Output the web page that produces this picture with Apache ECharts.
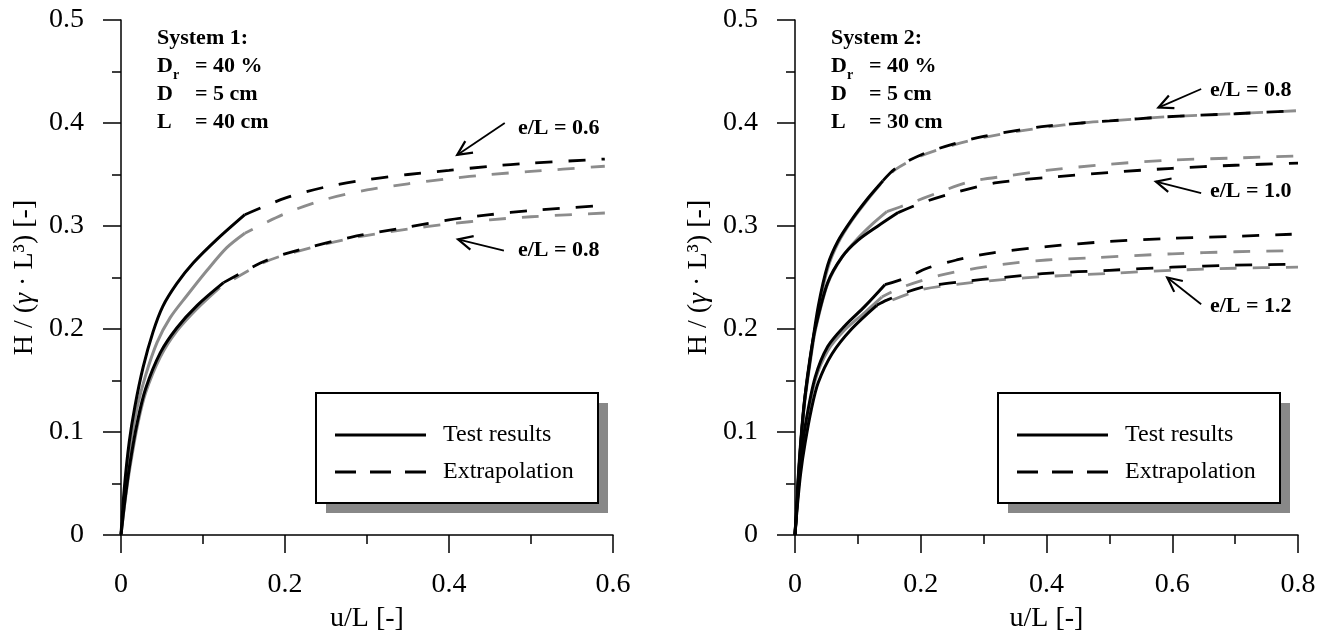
<!DOCTYPE html>
<html>
<head>
<meta charset="utf-8">
<script src="https://cdn.jsdelivr.net/npm/echarts@6/dist/echarts.min.js"></script>
<style>
  html, body { margin: 0; padding: 0; background: #fff; }
  #chart { width: 1330px; height: 639px; }
</style>
</head>
<body>
<div id="chart"></div>
<script>
// System 1 (left), e/L = 0.6 and 0.8 : [u/L, H/(gamma L^3)]
var s1_06_test = [[0, 0], [0.004, 0.045], [0.01, 0.09], [0.017, 0.125], [0.027, 0.163], [0.039, 0.197], [0.051, 0.222], [0.068, 0.244], [0.088, 0.264], [0.117, 0.287], [0.151, 0.311]];
var s1_06_ext = [[0.151, 0.311], [0.2, 0.327], [0.25, 0.338], [0.3, 0.345], [0.35, 0.350], [0.4, 0.354], [0.45, 0.358], [0.5, 0.361], [0.59, 0.365]];
var s1_06b_test = [[0, 0], [0.005, 0.045], [0.012, 0.09], [0.02, 0.125], [0.03, 0.155], [0.044, 0.187], [0.06, 0.211], [0.08, 0.232], [0.105, 0.257], [0.129, 0.279], [0.151, 0.293]];
var s1_06b_ext = [[0.151, 0.293], [0.2, 0.312], [0.25, 0.326], [0.3, 0.335], [0.35, 0.341], [0.4, 0.346], [0.45, 0.350], [0.5, 0.353], [0.59, 0.358]];
var s1_08_test = [[0, 0], [0.005, 0.035], [0.011, 0.07], [0.02, 0.11], [0.03, 0.142], [0.048, 0.177], [0.068, 0.201], [0.093, 0.223], [0.125, 0.245]];
var s1_08_ext = [[0.125, 0.245], [0.17, 0.264], [0.2, 0.273], [0.28, 0.289], [0.35, 0.299], [0.4, 0.306], [0.45, 0.311], [0.5, 0.315], [0.59, 0.320]];
var s1_08b_test = [[0, 0], [0.005, 0.033], [0.011, 0.066], [0.02, 0.106], [0.03, 0.138], [0.048, 0.173], [0.068, 0.198], [0.093, 0.22], [0.12, 0.24]];
var s1_08b_ext = [[0.12, 0.24], [0.17, 0.263], [0.2, 0.272], [0.28, 0.288], [0.35, 0.297], [0.4, 0.302], [0.45, 0.306], [0.5, 0.309], [0.6, 0.313]];

// System 2 (right), e/L = 0.8, 1.0 and 1.2
var s2_08_test = [[0, 0], [0.004, 0.045], [0.009, 0.09], [0.015, 0.13], [0.024, 0.17], [0.037, 0.222], [0.052, 0.262], [0.068, 0.285], [0.09, 0.306], [0.116, 0.327], [0.14, 0.344]];
var s2_08_ext = [[0.14, 0.344], [0.16, 0.356], [0.2, 0.369], [0.254, 0.38], [0.3, 0.387], [0.356, 0.393], [0.4, 0.397], [0.456, 0.400], [0.5, 0.402], [0.59, 0.406], [0.7, 0.409], [0.8, 0.412]];
var s2_08b_test = [[0, 0], [0.004, 0.043], [0.009, 0.087], [0.015, 0.127], [0.024, 0.167], [0.037, 0.218], [0.052, 0.259], [0.068, 0.283], [0.09, 0.305], [0.116, 0.326], [0.135, 0.34]];
var s2_08b_ext = [[0.135, 0.34], [0.16, 0.355], [0.2, 0.368], [0.254, 0.379], [0.3, 0.386], [0.356, 0.392], [0.4, 0.396], [0.456, 0.400], [0.5, 0.402], [0.59, 0.406], [0.7, 0.409], [0.8, 0.412]];
var s2_10_test = [[0, 0], [0.005, 0.05], [0.01, 0.095], [0.016, 0.135], [0.024, 0.172], [0.032, 0.2], [0.052, 0.245], [0.075, 0.27], [0.1, 0.286], [0.132, 0.3], [0.164, 0.313]];
var s2_10_ext = [[0.164, 0.313], [0.204, 0.323], [0.257, 0.333], [0.321, 0.342], [0.4, 0.347], [0.5, 0.352], [0.6, 0.356], [0.7, 0.359], [0.8, 0.361]];
var s2_10b_test = [[0, 0], [0.005, 0.05], [0.01, 0.094], [0.016, 0.133], [0.024, 0.17], [0.032, 0.198], [0.052, 0.244], [0.075, 0.27], [0.1, 0.288], [0.125, 0.303], [0.146, 0.314]];
var s2_10b_ext = [[0.146, 0.314], [0.183, 0.322], [0.226, 0.332], [0.278, 0.343], [0.342, 0.349], [0.4, 0.354], [0.5, 0.36], [0.6, 0.364], [0.7, 0.366], [0.8, 0.368]];
var s2_12_test = [[0, 0], [0.004, 0.035], [0.009, 0.07], [0.016, 0.105], [0.032, 0.153], [0.052, 0.183], [0.079, 0.203], [0.111, 0.222], [0.143, 0.243]];
var s2_12_ext = [[0.143, 0.243], [0.178, 0.25], [0.21, 0.259], [0.257, 0.267], [0.315, 0.274], [0.4, 0.28], [0.5, 0.285], [0.6, 0.288], [0.7, 0.29], [0.79, 0.292]];
var s2_12b_test = [[0, 0], [0.004, 0.034], [0.009, 0.068], [0.016, 0.1], [0.032, 0.15], [0.052, 0.179], [0.079, 0.199], [0.111, 0.216], [0.138, 0.231]];
var s2_12b_ext = [[0.138, 0.231], [0.172, 0.241], [0.23, 0.252], [0.289, 0.259], [0.347, 0.264], [0.4, 0.267], [0.467, 0.269], [0.6, 0.273], [0.7, 0.275], [0.8, 0.276]];
var s2_12c_test = [[0, 0], [0.004, 0.03], [0.009, 0.06], [0.016, 0.089], [0.026, 0.122], [0.037, 0.148], [0.059, 0.176], [0.09, 0.2], [0.13, 0.223]];
var s2_12c_ext = [[0.13, 0.223], [0.146, 0.228], [0.199, 0.24], [0.267, 0.246], [0.33, 0.25], [0.4, 0.254], [0.5, 0.257], [0.6, 0.26], [0.7, 0.262], [0.8, 0.263]];
var s2_12d_ext = [[0.13, 0.222], [0.2, 0.238], [0.267, 0.244], [0.33, 0.248], [0.4, 0.251], [0.5, 0.254], [0.6, 0.257], [0.7, 0.259], [0.8, 0.26]];

// annotation arrows: [tail, head] in data units, and their labels [text, x, y]
var arrows1 = [[[0.468, 0.400], [0.41, 0.369]], [[0.467, 0.276], [0.411, 0.287]]];
var labels1 = [['e/L = 0.6', 0.484, 0.395], ['e/L = 0.8', 0.484, 0.276]];
var arrows2 = [[[0.646, 0.433], [0.578, 0.415]], [[0.646, 0.332], [0.574, 0.343]], [[0.646, 0.224], [0.592, 0.25]]];
var labels2 = [['e/L = 0.8', 0.66, 0.432], ['e/L = 1.0', 0.66, 0.334], ['e/L = 1.2', 0.66, 0.222]];

var notes1 = [['D', '= 40 %'], ['D', '= 5 cm'], ['L', '= 40 cm']];
var notes2 = [['D', '= 40 %'], ['D', '= 5 cm'], ['L', '= 30 cm']];
var legendNames = ['Test results', 'Extrapolation'];

var FONT = "'Liberation Serif', 'Times New Roman', serif";
var BLACK = '#000';
var GRAY = '#8c8c8c';

var chart = echarts.init(document.getElementById('chart'));

function line(name, data, idx, color, dashed, offset) {
    return {
        name: name,
        type: 'line',
        xAxisIndex: idx,
        yAxisIndex: idx,
        data: data,
        showSymbol: false,
        symbol: 'none',
        smooth: 0.3,
        silent: true,
        itemStyle: { color: color },
        lineStyle: {
            color: color,
            width: dashed ? 2.8 : 3,
            type: dashed ? [17, 16] : 'solid',
            dashOffset: offset || 0
        }
    };
}

function xAxis(idx, max) {
    return {
        gridIndex: idx, type: 'value', min: 0, max: max, interval: 0.2,
        name: 'u/L [-]', nameLocation: 'middle', nameGap: 70,
        nameTextStyle: { fontFamily: FONT, fontSize: 28, color: BLACK },
        axisLine: { onZero: false, lineStyle: { color: BLACK, width: 1.5 } },
        axisTick: { length: 18, lineStyle: { color: BLACK, width: 1.5 } },
        minorTick: { show: true, splitNumber: 2, length: 9, lineStyle: { color: BLACK, width: 1.5 } },
        splitLine: { show: false },
        axisLabel: { margin: 36, fontFamily: FONT, fontSize: 28, color: BLACK }
    };
}

function yAxis(idx) {
    return {
        gridIndex: idx, type: 'value', min: 0, max: 0.5, interval: 0.1,
        name: 'H / ({i|γ} · L³) [-]', nameLocation: 'middle', nameGap: 82,
        nameTextStyle: {
            fontFamily: FONT, fontSize: 28, color: BLACK,
            rich: { i: { fontFamily: FONT, fontSize: 28, fontStyle: 'italic', color: BLACK } }
        },
        axisLine: { onZero: false, lineStyle: { color: BLACK, width: 1.5 } },
        axisTick: { length: 18, lineStyle: { color: BLACK, width: 1.5 } },
        minorTick: { show: true, splitNumber: 2, length: 9, lineStyle: { color: BLACK, width: 1.5 } },
        splitLine: { show: false },
        axisLabel: { margin: 37, fontFamily: FONT, fontSize: 28, color: BLACK }
    };
}

var series = [
    // System 1 : gray below, black on top
    line('Test results (2)', s1_06b_test, 0, GRAY, false),
    line('Extrapolation (2)', s1_06b_ext, 0, GRAY, true, 8),
    line('Test results (2)', s1_08b_test, 0, GRAY, false),
    line('Extrapolation (2)', s1_08b_ext, 0, GRAY, true, 16),
    line('Test results', s1_06_test, 0, BLACK, false),
    line('Extrapolation', s1_06_ext, 0, BLACK, true),
    line('Test results', s1_08_test, 0, BLACK, false),
    line('Extrapolation', s1_08_ext, 0, BLACK, true),
    // System 2
    line('Test results (2)', s2_08b_test, 1, GRAY, false),
    line('Extrapolation (2)', s2_08b_ext, 1, GRAY, true, 16),
    line('Test results (2)', s2_10b_test, 1, GRAY, false),
    line('Extrapolation (2)', s2_10b_ext, 1, GRAY, true),
    line('Test results (2)', s2_12b_test, 1, GRAY, false),
    line('Extrapolation (2)', s2_12b_ext, 1, GRAY, true, 6),
    line('Extrapolation (2)', s2_12d_ext, 1, GRAY, true, 16),
    line('Test results', s2_08_test, 1, BLACK, false),
    line('Extrapolation', s2_08_ext, 1, BLACK, true),
    line('Test results', s2_10_test, 1, BLACK, false),
    line('Extrapolation', s2_10_ext, 1, BLACK, true),
    line('Test results', s2_12_test, 1, BLACK, false),
    line('Extrapolation', s2_12_ext, 1, BLACK, true),
    line('Test results', s2_12c_test, 1, BLACK, false),
    line('Extrapolation', s2_12c_ext, 1, BLACK, true)
];

chart.setOption({
    animation: false,
    backgroundColor: '#fff',
    grid: [
        { left: 121, top: 20, width: 492, height: 515 },
        { left: 795, top: 20, width: 503, height: 515 }
    ],
    xAxis: [xAxis(0, 0.6), xAxis(1, 0.8)],
    yAxis: [yAxis(0), yAxis(1)],
    series: series
});

var bold = { fontFamily: FONT, fontSize: 22, fontWeight: 'bold', fill: BLACK, verticalAlign: 'middle' };

function notesBlock(idx, title, notes) {
    var o = chart.convertToPixel({ gridIndex: idx }, [0, 0.5]);
    var x0 = o[0] + 36, y0 = o[1] + 18;
    var els = [];
    els.push({ type: 'text', x: x0, y: y0, style: Object.assign({}, bold, { text: title }) });
    notes.forEach(function (n, i) {
        var y = y0 + 28 * (i + 1);
        els.push({ type: 'text', x: x0, y: y, style: Object.assign({}, bold, { text: n[0] }) });
        els.push({ type: 'text', x: x0 + 38, y: y, style: Object.assign({}, bold, { text: n[1] }) });
    });
    // subscript of D_r
    els.push({ type: 'text', x: x0 + 16, y: y0 + 37, style: Object.assign({}, bold, { text: 'r', fontSize: 14 }) });
    return els;
}

function arrowBlock(idx, arrows, labels) {
    var els = [];
    arrows.forEach(function (a) {
        var t = chart.convertToPixel({ gridIndex: idx }, a[0]);
        var h = chart.convertToPixel({ gridIndex: idx }, a[1]);
        var ang = Math.atan2(t[1] - h[1], t[0] - h[0]);
        var len = 16, spread = 0.45;
        var w1 = [h[0] + len * Math.cos(ang + spread), h[1] + len * Math.sin(ang + spread)];
        var w2 = [h[0] + len * Math.cos(ang - spread), h[1] + len * Math.sin(ang - spread)];
        els.push({ type: 'line', shape: { x1: t[0], y1: t[1], x2: h[0], y2: h[1] }, style: { stroke: BLACK, lineWidth: 1.8 } });
        els.push({ type: 'polyline', shape: { points: [w1, h, w2] }, style: { stroke: BLACK, lineWidth: 2.2, fill: null } });
    });
    labels.forEach(function (l) {
        var p = chart.convertToPixel({ gridIndex: idx }, [l[1], l[2]]);
        els.push({ type: 'text', x: p[0], y: p[1], style: Object.assign({}, bold, { text: l[0] }) });
    });
    return els;
}

// framed legend with a drop shadow, one per panel
function legendBlock(left, top) {
    var w = 282, h = 110;
    var text = { fontFamily: FONT, fontSize: 24, fill: BLACK, verticalAlign: 'middle' };
    return [
        { type: 'rect', shape: { x: left + 10, y: top + 10, width: w, height: h }, style: { fill: '#888' } },
        { type: 'rect', shape: { x: left, y: top, width: w, height: h }, style: { fill: '#fff', stroke: BLACK, lineWidth: 2 } },
        { type: 'line', shape: { x1: left + 19, y1: top + 42, x2: left + 110, y2: top + 42 }, style: { stroke: BLACK, lineWidth: 3 } },
        { type: 'text', x: left + 127, y: top + 42, style: Object.assign({}, text, { text: legendNames[0] }) },
        { type: 'line', shape: { x1: left + 19, y1: top + 79, x2: left + 110, y2: top + 79 }, style: { stroke: BLACK, lineWidth: 2.8, lineDash: [21, 14] } },
        { type: 'text', x: left + 127, y: top + 79, style: Object.assign({}, text, { text: legendNames[1] }) }
    ];
}

chart.setOption({
    graphic: [].concat(
        notesBlock(0, 'System 1:', notes1),
        notesBlock(1, 'System 2:', notes2),
        arrowBlock(0, arrows1, labels1),
        arrowBlock(1, arrows2, labels2),
        legendBlock(316, 393),
        legendBlock(998, 393)
    )
});
</script>
</body>
</html>
